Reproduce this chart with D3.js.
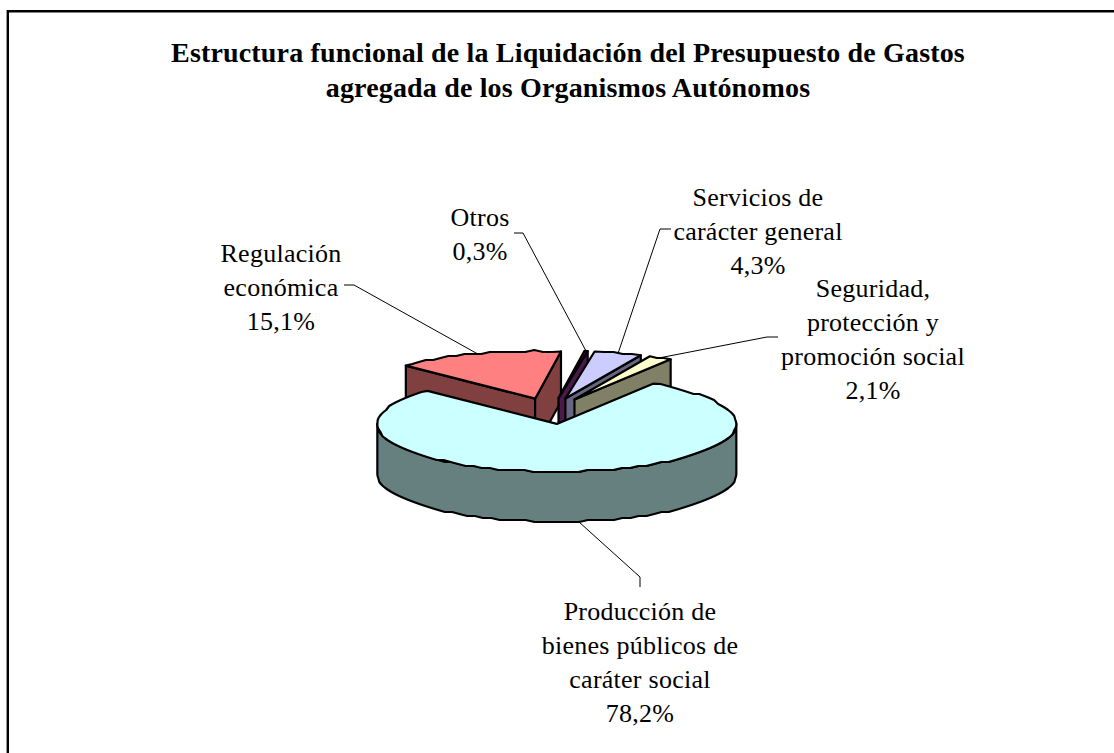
<!DOCTYPE html>
<html>
<head>
<meta charset="utf-8">
<script src="https://cdn.jsdelivr.net/npm/d3@7"></script>
<style>
  body { margin: 0; background: #fff; }
  text { font-family: "Liberation Serif", serif; fill: #000; text-anchor: middle; }
</style>
</head>
<body>
<div id="chart"></div>
<script>
// values, in drawing order round the pie
const categories = ["Producción de bienes públicos de caráter social", "Regulación económica", "Otros", "Servicios de carácter general", "Seguridad, protección y promoción social"];
const shares = [78.2, 15.1, 0.3, 4.3, 2.1];
const shareLabels = ["78,2%", "15,1%", "0,3%", "4,3%", "2,1%"];
const labelLines = [
    ["Producción de", "bienes públicos de", "caráter social"],
    ["Regulación", "económica"],
    ["Otros"],
    ["Servicios de", "carácter general"],
    ["Seguridad,", "protección y", "promoción social"]
];
const titleLines = ["Estructura funcional de la Liquidación del Presupuesto de Gastos", "agregada de los Organismos Autónomos"];
const topColors = ["#CCFFFF", "#FF8080", "#660066", "#CCCCFF", "#FFFFCC"];
const wallColors = ["#668080", "#804040", "#4a1a4a", "#666680", "#808066"];

// layout
const width = 1114, height = 753;
const cx = 551, cy = 411;       // centre of the unexploded pie
const rx = 179.5, ry = 47.7;    // top ellipse
const depth = 50;               // wall height
const explode = 49;
const startAngle = 32.4 * Math.PI / 180;
const fontSize = 26, titleSize = 28, lineStep = 34;

// label centre x, first baseline, leader elbow and leader start
const labelPos = [
    {x: 640, y: 620, elbow: [640, 577], from: [640, 587]},
    {x: 281, y: 262, elbow: [354, 285], from: [344, 285]},
    {x: 480, y: 226, elbow: [523, 233], from: [514, 233]},
    {x: 758, y: 206, elbow: [660, 229], from: [671, 229]},
    {x: 873, y: 297, elbow: [767, 337], from: [778, 337]}
];

var svg = d3.select("#chart").append("svg")
    .attr("width", width)
    .attr("height", height)
    .style("display", "block");

// frame, only top and left are inside the picture
svg.append("path")
    .attr("d", "M7.8," + height + "V11.3H" + width)
    .attr("fill", "none")
    .attr("stroke", "#000")
    .attr("stroke-width", 2.4);

// title
svg.selectAll(".title")
    .data(titleLines)
    .enter().append("text")
    .attr("class", "title")
    .attr("x", 568)
    .attr("y", function(d, i) { return 62 + i * 35; })
    .attr("font-size", titleSize)
    .attr("font-weight", "bold")
    .attr("letter-spacing", 0.16)
    .text(function(d) { return d; });

var pie = d3.pie().sort(null).startAngle(startAngle).endAngle(startAngle + 2 * Math.PI);
var slices = pie(shares).map(function(s, i) {
    var mid = (s.startAngle + s.endAngle) / 2;
    return {
        index: i,
        a0: s.startAngle,
        a1: s.endAngle,
        mid: mid,
        ox: cx + explode * Math.sin(mid),
        oy: cy - explode * ry / rx * Math.cos(mid)
    };
});

function point(s, a, dy) {
    return [s.ox + rx * Math.sin(a), s.oy - ry * Math.cos(a) + (dy || 0)];
}

// the original arcs are slightly bumpy, snap the y of inner samples to a coarse grid
function arcPoints(s, a0, a1, dy) {
    var n = Math.max(1, Math.round(Math.abs(a1 - a0) * rx / 9));
    return d3.range(n + 1).map(function(k) {
        var p = point(s, a0 + (a1 - a0) * k / n, dy);
        if (k > 0 && k < n) p[1] = Math.round(p[1] / 2) * 2;
        return p;
    });
}

var line = d3.line();
var g = svg.append("g")
    .attr("stroke", "#000")
    .attr("stroke-width", 2.2)
    .attr("stroke-linejoin", "round");

function wall(pts, s) {
    var lower = pts.map(function(p) { return [p[0], p[1] + depth]; }).reverse();
    g.append("path")
        .attr("d", line(pts.concat(lower)) + "Z")
        .attr("fill", wallColors[s.index]);
}

// back slices first, the big one goes on top of them
[1, 2, 3, 4, 0].forEach(function(i) {
    var s = slices[i];
    var apex = [s.ox, s.oy];
    if (Math.sin(s.a0) < 0) wall([apex, point(s, s.a0)], s);
    if (Math.sin(s.a1) > 0) wall([apex, point(s, s.a1)], s);

    // outer wall, only the part facing the viewer
    var from = Math.max(s.a0, Math.PI / 2), to = Math.min(s.a1, 3 * Math.PI / 2);
    if (from < to) wall(arcPoints(s, from, to), s);

    g.append("path")
        .attr("d", line([apex].concat(arcPoints(s, s.a0, s.a1))) + "Z")
        .attr("fill", topColors[i]);
});

// leader lines run from the label to the middle of each slice's rim
var leaders = svg.append("g")
    .attr("fill", "none")
    .attr("stroke", "#000")
    .attr("stroke-width", 1);

slices.forEach(function(s, i) {
    var rim = s.mid > Math.PI / 2 && s.mid < 3 * Math.PI / 2 ? depth : 0;
    leaders.append("path")
        .attr("d", line([labelPos[i].from, labelPos[i].elbow, point(s, s.mid, rim)]));
});

// labels
labelLines.forEach(function(lines, i) {
    svg.append("g").selectAll("text")
        .data(lines.concat(shareLabels[i]))
        .enter().append("text")
        .attr("x", labelPos[i].x)
        .attr("y", function(d, k) { return labelPos[i].y + k * lineStep; })
        .attr("font-size", fontSize)
        .attr("letter-spacing", 0.25)
        .text(function(d) { return d; });
});
</script>
</body>
</html>
